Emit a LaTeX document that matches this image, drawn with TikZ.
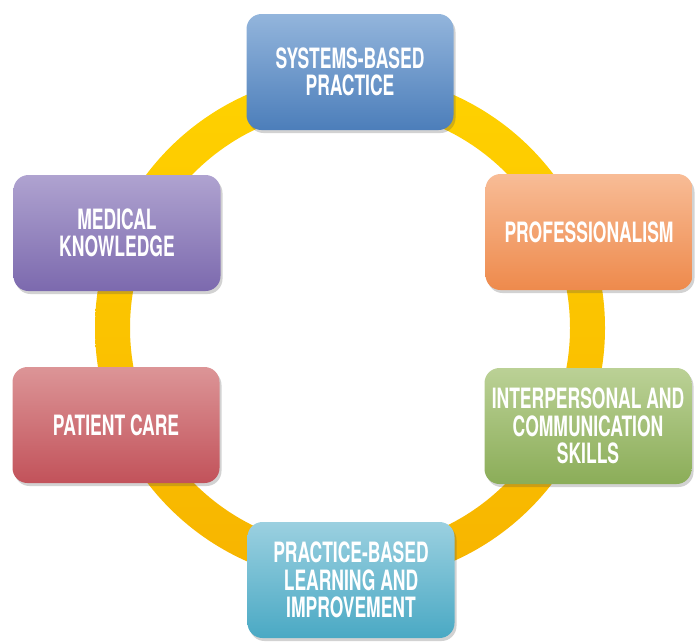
\documentclass[tikz,border=0pt]{standalone}
\usepackage{fontspec}
\setmainfont{TeX Gyre Heros}[FakeStretch=0.625]
\usetikzlibrary{shadows}
\definecolor{ringT}{HTML}{FFD200}
\definecolor{ringB}{HTML}{F7B400}
\definecolor{sbpT}{HTML}{93B5DC}
\definecolor{sbpB}{HTML}{4C7EBA}
\definecolor{proT}{HTML}{F8BC96}
\definecolor{proB}{HTML}{EE8A4C}
\definecolor{medT}{HTML}{AFA3D0}
\definecolor{medB}{HTML}{7C69AE}
\definecolor{pcT}{HTML}{DC9597}
\definecolor{pcB}{HTML}{C2525A}
\definecolor{ipcT}{HTML}{BBD196}
\definecolor{ipcB}{HTML}{8BAD58}
\definecolor{pbT}{HTML}{9BD0E0}
\definecolor{pbB}{HTML}{4AA9C4}
\begin{document}
\begin{tikzpicture}[x=1pt,y=-1pt,
  box/.style={rounded corners=15pt, minimum width=207pt, minimum height=116pt,
    inner sep=0pt, align=center, text=white,
    font=\bfseries\fontsize{28}{27.5}\selectfont,
    drop shadow={opacity=0.25, shadow xshift=2pt, shadow yshift=-3pt, fill=black!70}},
  ring/.style={top color=ringT, bottom color=ringB, even odd rule}]
\useasboundingbox (0,0) rectangle (695,641);
\coordinate (c) at (350,328);
\path[ring] (c) circle[radius=255pt] (c) circle[radius=220pt];
\node[box, top color=sbpT, bottom color=sbpB] (sbp) at (350,72) {SYSTEMS-BASED\\PRACTICE};
\node[box, top color=proT, bottom color=proB] (pro) at (589,232) {PROFESSIONALISM};
\node[box, top color=medT, bottom color=medB] (med) at (117,233) {MEDICAL\\KNOWLEDGE};
\node[box, top color=pcT, bottom color=pcB] (pc) at (116,425) {PATIENT CARE};
\node[box, top color=ipcT, bottom color=ipcB] (ipc) at (588,426) {INTERPERSONAL AND\\COMMUNICATION\\SKILLS};
\node[box, top color=pbT, bottom color=pbB] (pb) at (351,580) {PRACTICE-BASED\\LEARNING AND\\IMPROVEMENT};
\end{tikzpicture}
\end{document}
